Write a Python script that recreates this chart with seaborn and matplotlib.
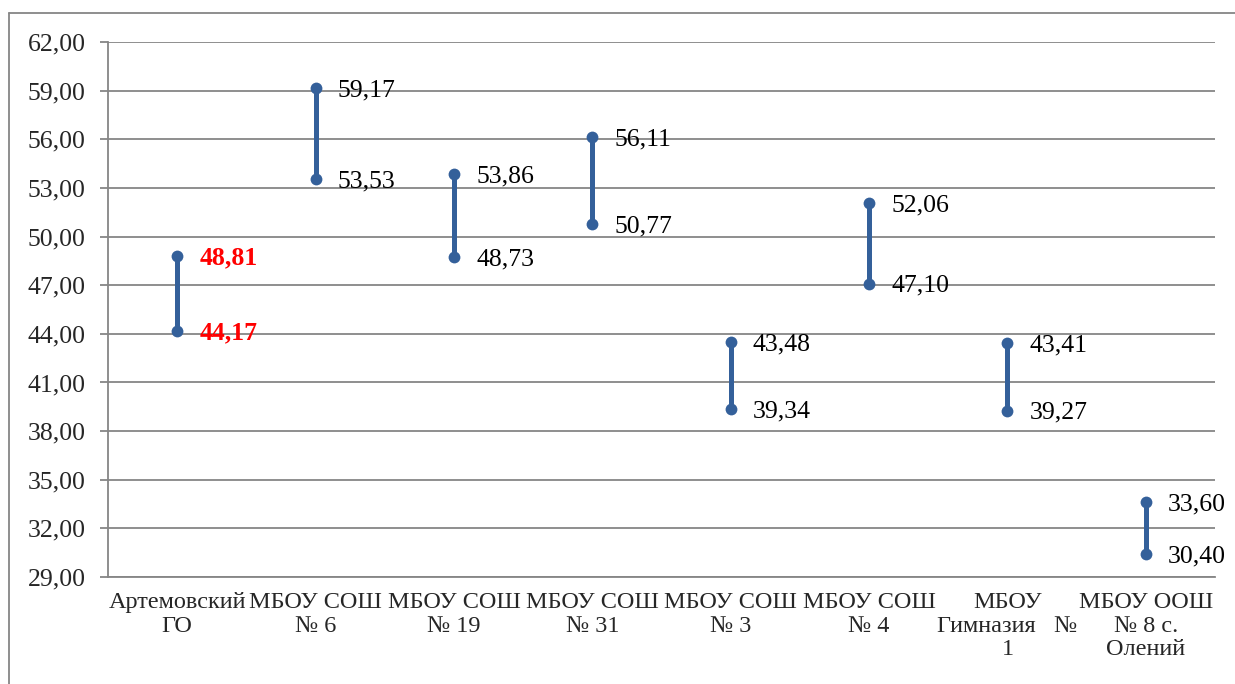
import matplotlib
matplotlib.use("Agg")
import matplotlib.pyplot as plt
import matplotlib.lines as mlines
import seaborn as sns
import pandas as pd
import numpy as np

categories = ["Артемовский\nГО", "МБОУ СОШ\n№ 6", "МБОУ СОШ\n№ 19", "МБОУ СОШ\n№ 31",
              "МБОУ СОШ\n№ 3", "МБОУ СОШ\n№ 4", "МБОУ\nГимназия   №\n1",
              "МБОУ ООШ\n№ 8 с.\nОлений"]
high_values = [48.81, 59.17, 53.86, 56.11, 43.48, 52.06, 43.41, 33.60]
low_values = [44.17, 53.53, 48.73, 50.77, 39.34, 47.10, 39.27, 30.40]
y_ticks = [29, 32, 35, 38, 41, 44, 47, 50, 53, 56, 59, 62]

sns.set_theme(style="white")
plt.rcParams['font.family'] = ['Liberation Serif', 'DejaVu Serif']

rows = []
for i, c in enumerate(categories):
    rows.append({"pos": i, "cat": c, "value": high_values[i]})
    rows.append({"pos": i, "cat": c, "value": low_values[i]})
df = pd.DataFrame(rows)

fig = plt.figure(figsize=(12.35, 6.84), dpi=100)
ax = fig.add_axes([108/1235, 1-577/684, (1215-108)/1235, (577-42)/684])

line_color = "#34609A"
sns.lineplot(data=df, x="pos", y="value", units="cat", estimator=None, sort=False,
             color=line_color, linewidth=3.6, marker="o", markersize=8.5,
             markeredgewidth=0, ax=ax, legend=False)

ax.set_xlim(-0.5, len(categories) - 0.5)
ax.set_ylim(29, 62)
ax.set_yticks(y_ticks)
ax.set_yticklabels([f"{v:.2f}".replace(".", ",") for v in y_ticks], fontsize=18.5)
ax.set_xticks(range(len(categories)))
ax.set_xticklabels(categories, fontsize=17.5, linespacing=1.15)
ax.set_xticks(np.arange(-0.5, len(categories), 1.0), minor=True)
ax.tick_params(axis="x", which="major", length=0, pad=11)
ax.tick_params(axis="x", which="minor", length=6, width=1.3, color="#868686", direction="out")
ax.tick_params(axis="y", which="major", length=6, width=1.3, color="#868686", direction="out", pad=10, left=True)
ax.set_xlabel("")
ax.set_ylabel("")

ax.grid(axis="y", color="#868686", linewidth=1.3)
ax.set_axisbelow(True)
for s in ["top", "right"]:
    ax.spines[s].set_visible(False)
for s in ["left", "bottom"]:
    ax.spines[s].set_color("#868686")
    ax.spines[s].set_linewidth(1.3)

for i in range(len(categories)):
    for v in (high_values[i], low_values[i]):
        txt = f"{v:.2f}".replace(".", ",")
        if i == 0:
            ax.annotate(txt, (i, v), xytext=(16, -1.5), textcoords="offset points",
                        va="center", ha="left", fontsize=18.5, color="#FF0000", fontweight="bold")
        else:
            ax.annotate(txt, (i, v), xytext=(16, -1.5), textcoords="offset points",
                        va="center", ha="left", fontsize=18.5, color="black")

# outer chart border (top and left edges visible)
fig.add_artist(mlines.Line2D([9/1235, 1.01], [1-13/684, 1-13/684], transform=fig.transFigure,
                             color="#868686", linewidth=1.3, clip_on=False))
fig.add_artist(mlines.Line2D([9/1235, 9/1235], [-0.01, 1-13/684], transform=fig.transFigure,
                             color="#868686", linewidth=1.3, clip_on=False))

fig.savefig("out.png", dpi=100)
